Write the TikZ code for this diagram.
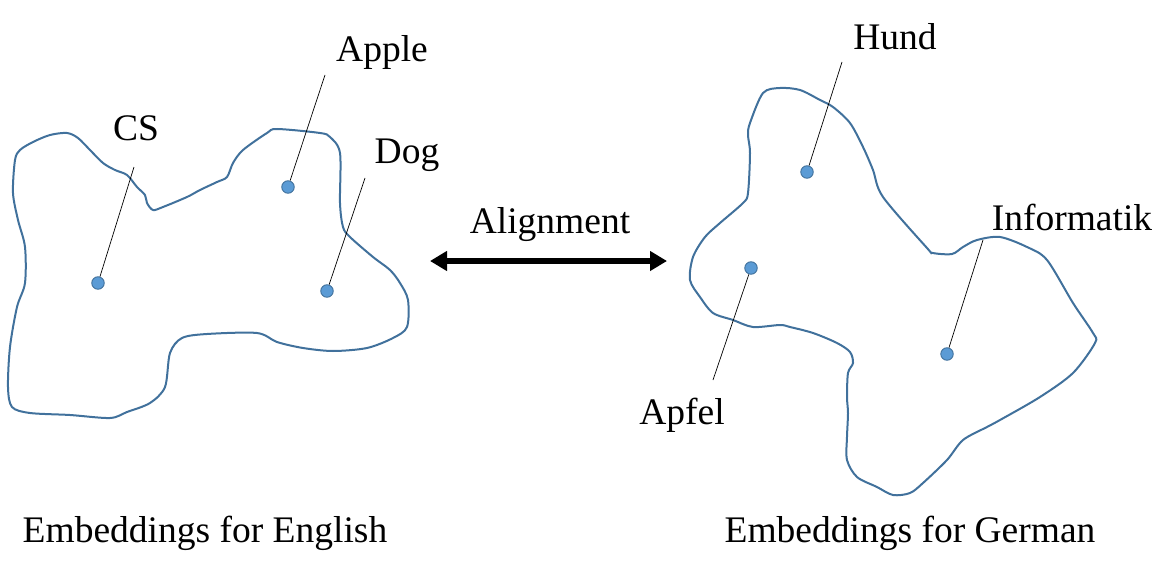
\documentclass[tikz,border=0pt]{standalone}
\usepackage{fontspec}
\setmainfont{Liberation Serif}
\usetikzlibrary{arrows.meta}
\definecolor{blobline}{RGB}{65,113,156}
\definecolor{dotfill}{RGB}{91,155,213}
\tikzset{
  blob/.style={draw=blobline, line width=2pt},
  wdot/.style={circle, fill=dotfill, draw=blobline, line width=0.9pt, minimum size=12.5pt, inner sep=0pt},
  leader/.style={draw=black, line width=0.7pt},
  lbl/.style={font=\fontsize{37.5}{40}\selectfont, inner sep=0pt},
}
\begin{document}
\begin{tikzpicture}[x=1pt, y=-1pt]
\useasboundingbox (0,0) rectangle (1176,578);
% left blob
\draw[blob] plot[smooth cycle, tension=0.5] coordinates {
(12,407) (30,413) (70,415) (110,418) (127,412) (150,403) (165,387) (170,353) (182,338) (207,334) (257,333) (277,342) (303,348) (333,351) (367,348) (393,338) (407,327) (408,300) (400,283) (390,270) (373,257) (350,237) (343,227) (340,203) (340,153) (330,137) (320,133) (277,129) (267,133) (243,150) (233,163) (227,177) (217,182) (200,190) (187,197) (163,207) (153,210) (147,203) (145,195) (137,187) (127,175) (115,170) (103,163) (90,150) (78,138) (67,133) (50,135) (33,142) (20,150) (15,160) (13,193) (18,220) (25,247) (25,283) (17,307) (10,347) (8,387)};
% right blob
\draw[blob] plot[smooth cycle, tension=0.5] coordinates {
(763,93) (750,123) (748,135) (750,153) (748,193) (743,203) (720,223) (705,237) (693,257) (690,280) (700,297) (713,313) (733,320) (753,327) (780,325) (790,327) (813,333) (837,343) (850,352) (853,363) (848,373) (847,397) (848,413) (847,437) (847,460) (857,477) (877,487) (893,495) (910,493) (923,483) (947,460) (963,440) (987,427) (1000,420) (1040,397) (1073,373) (1095,343) (1093,333) (1073,303) (1047,260) (1027,247) (1000,237) (977,240) (963,247) (952,254) (933,253) (927,248) (883,197) (873,170) (863,147) (850,123) (833,107) (820,100) (800,90) (780,88)};
% dots
\node[wdot] (cs) at (98,283) {};
\node[wdot] (apple) at (288,187) {};
\node[wdot] (dog) at (327,291) {};
\node[wdot] (hund) at (807,172) {};
\node[wdot] (apfel) at (751,268) {};
\node[wdot] (info) at (947,354) {};
% leader ends
\coordinate (csE) at (134,167);
\coordinate (appleE) at (325,75);
\coordinate (dogE) at (365,178);
\coordinate (hundE) at (842,62);
\coordinate (apfelE) at (713,380);
\coordinate (infoE) at (983,240);
\draw[leader] (cs) -- (csE);
\draw[leader] (apple) -- (appleE);
\draw[leader] (dog) -- (dogE);
\draw[leader] (hund) -- (hundE);
\draw[leader] (apfel) -- (apfelE);
\draw[leader] (info) -- (infoE);
% labels
\node[lbl] (tcs) at (136,128) {CS};
\node[lbl] (tapple) at (382,52) {Apple};
\node[lbl] (tdog) at (407,155) {Dog};
\node[lbl] (thund) at (895,37) {Hund};
\node[lbl] (tinfo) at (1072,217) {Informatik};
\node[lbl] (tapfel) at (682,415) {Apfel};
\node[lbl] (talign) at (550,225) {Alignment};
\node[lbl] (ten) at (205,533) {Embeddings for English};
\node[lbl] (tde) at (910,533) {Embeddings for German};
% arrow
\coordinate (aL) at (430,261);
\coordinate (aR) at (667,261);
\draw[line width=5.5pt, {Triangle[length=17pt,width=19pt]}-{Triangle[length=17pt,width=19pt]}] (aL) -- (aR);
\end{tikzpicture}
\end{document}
